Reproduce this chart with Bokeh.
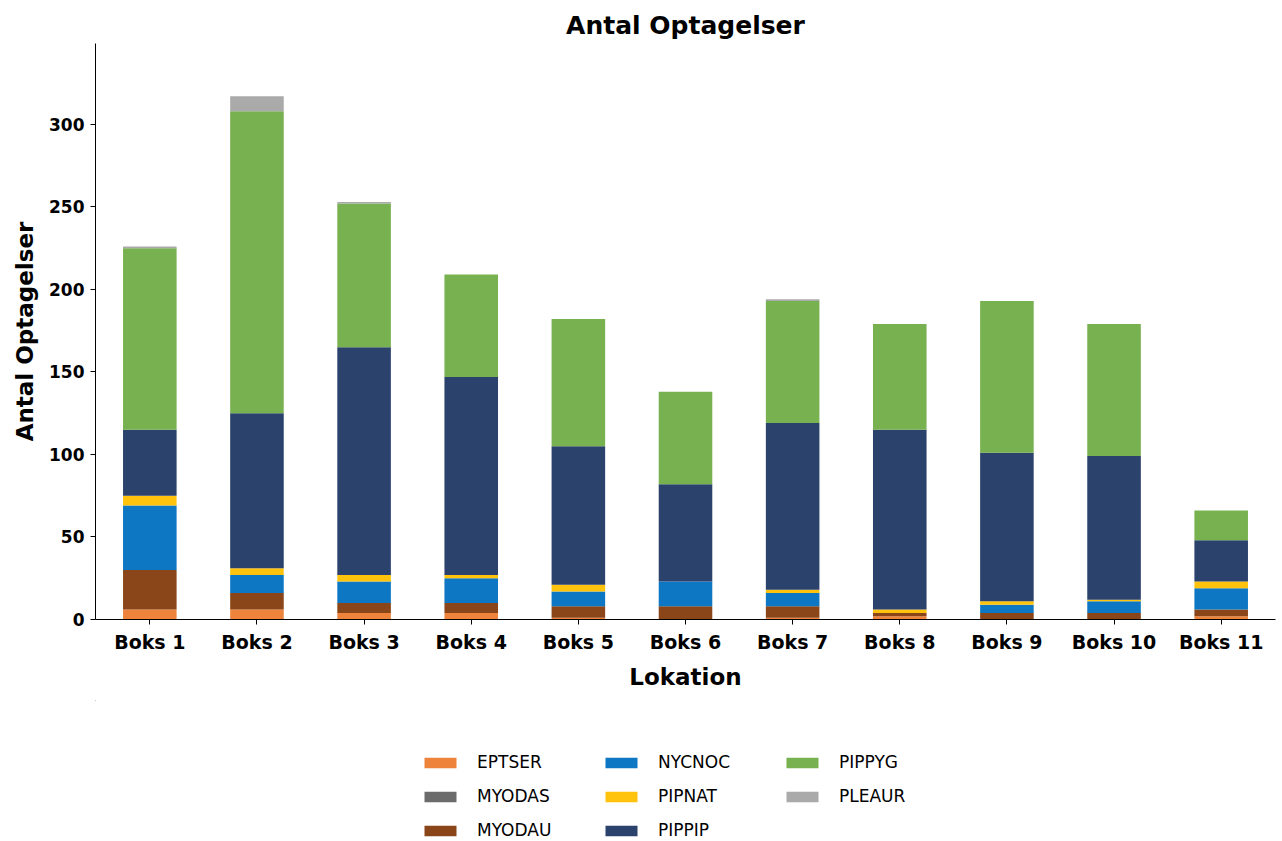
from bokeh.plotting import figure
from bokeh.layouts import column
from bokeh.models import ColumnDataSource, Legend, LegendItem, FixedTicker, Range1d
from bokeh.embed import file_html
from bokeh.resources import INLINE

boxes = ["Boks 1", "Boks 2", "Boks 3", "Boks 4", "Boks 5", "Boks 6",
         "Boks 7", "Boks 8", "Boks 9", "Boks 10", "Boks 11"]
species = ["EPTSER", "MYODAS", "MYODAU", "NYCNOC", "PIPNAT", "PIPPIP", "PIPPYG", "PLEAUR"]
EPTSER = [6, 6, 4, 4, 1, 0, 1, 2, 0, 0, 2]
MYODAS = [0, 0, 0, 0, 0, 0, 0, 0, 0, 0, 0]
MYODAU = [24, 10, 6, 6, 7, 8, 7, 2, 4, 4, 4]
NYCNOC = [39, 11, 13, 15, 9, 15, 8, 0, 5, 7, 13]
PIPNAT = [6, 4, 4, 2, 4, 0, 2, 2, 2, 1, 4]
PIPPIP = [40, 94, 138, 120, 84, 59, 101, 109, 90, 87, 25]
PIPPYG = [110, 183, 87, 62, 77, 56, 74, 64, 92, 80, 18]
PLEAUR = [1, 9, 1, 0, 0, 0, 1, 0, 0, 0, 0]
colors = ["#ED7D31", "#636363", "#843C0C", "#0070C0", "#FFC000", "#1F3864", "#70AD47", "#A5A5A5"]
y_ticks = [0, 50, 100, 150, 200, 250, 300]

FONT = "DejaVu Sans"

xs = list(range(len(boxes)))
source = ColumnDataSource(dict(x=xs, EPTSER=EPTSER, MYODAS=MYODAS, MYODAU=MYODAU,
                               NYCNOC=NYCNOC, PIPNAT=PIPNAT, PIPPIP=PIPPIP,
                               PIPPYG=PIPPYG, PLEAUR=PLEAUR))

p = figure(width=1282, height=700, output_backend="svg", toolbar_location=None,
           x_range=Range1d(-0.507, 10.507), y_range=Range1d(0, 349),
           title="Antal Optagelser", min_border_left=95, min_border_right=7,
           min_border_top=43, min_border_bottom=81)

p.vbar_stack(species, x="x", width=0.5, color=colors, alpha=0.95,
             line_width=0, source=source)

p.title.align = "center"
p.title.text_font = FONT
p.title.text_font_size = "25px"
p.title.text_font_style = "bold"
p.title.text_color = "black"
p.title.standoff = 7
p.title.offset = 0

p.xgrid.visible = False
p.ygrid.visible = False
p.outline_line_color = None
p.background_fill_color = "white"
p.border_fill_color = "white"

xa = p.xaxis[0]
xa.ticker = FixedTicker(ticks=xs)
xa.major_label_overrides = {i: b for i, b in enumerate(boxes)}
xa.axis_label = "Lokation"
ya = p.yaxis[0]
ya.ticker = FixedTicker(ticks=y_ticks)
ya.axis_label = "Antal Optagelser"

for ax, ts in ((xa, "19px"), (ya, "17px")):
    ax.axis_line_color = "black"
    ax.axis_line_width = 1
    ax.major_tick_line_color = "black"
    ax.major_tick_out = 5
    ax.major_tick_in = 0
    ax.minor_tick_line_color = None
    ax.major_label_text_font = FONT
    ax.major_label_text_font_size = ts
    ax.major_label_text_font_style = "bold"
    ax.major_label_text_color = "black"
    ax.axis_label_text_font = FONT
    ax.axis_label_text_font_size = "23px"
    ax.axis_label_text_font_style = "bold"
    ax.axis_label_text_color = "black"
ya.major_label_standoff = 6
xa.major_label_standoff = 6
ya.axis_label_standoff = 8
xa.axis_label_standoff = 8

# legend panel (separate figure below the chart); its swatches come from
# renderers whose single point lies well outside the visible range
p2 = figure(width=1282, height=141, output_backend="svg", toolbar_location=None,
            x_range=Range1d(0, 1), y_range=Range1d(0, 1), min_border=0)
p2.xaxis.visible = False
p2.yaxis.visible = False
p2.xgrid.visible = False
p2.ygrid.visible = False
p2.outline_line_color = None
items = []
for s, c in zip(species, colors):
    r = p2.vbar(x=[-5], top=[6], bottom=[5], width=0.5, color=c, alpha=0.95, line_width=0)
    items.append(LegendItem(label=s, renderers=[r]))

legend = Legend(items=items, orientation="vertical", nrows=3, location=(325, 1))
legend.label_text_font = FONT
legend.label_text_font_size = "17px"
legend.label_text_color = "black"
legend.glyph_width = 40
legend.glyph_height = 13
legend.label_standoff = 17
legend.label_width = 110
legend.spacing = 14
legend.padding = 0
legend.margin = 0
legend.border_line_color = None
legend.background_fill_alpha = 0
p2.add_layout(legend, "center")

layout = column(p, p2, spacing=0)
open("out.html", "w").write(file_html(layout, INLINE))
